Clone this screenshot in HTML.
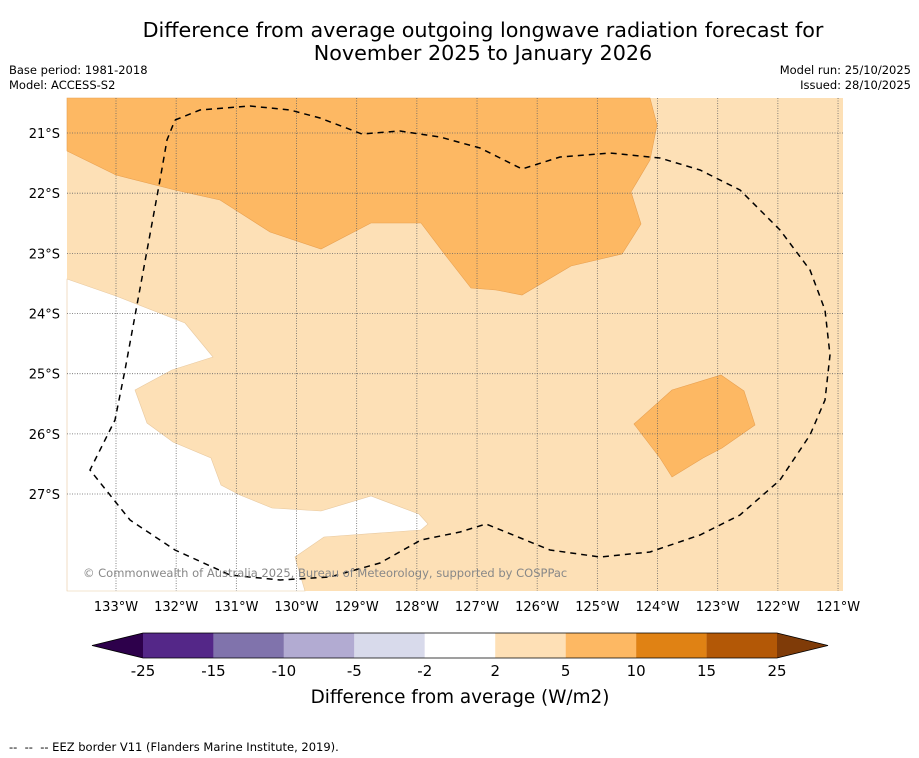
<!DOCTYPE html>
<html><head><meta charset="utf-8"><style>
body{margin:0;background:#fff;font-family:"Liberation Sans","DejaVu Sans",sans-serif}
#root{position:relative;width:919px;height:758px;overflow:hidden;background:#fff}
.t{position:absolute;white-space:nowrap}
</style></head><body>
<div id="root">
<div class="t" style="left:0;width:966px;text-align:center;top:19px;font-size:20.7px;line-height:23px;color:#000;font-family:'DejaVu Sans',sans-serif">Difference from average outgoing longwave radiation forecast for<br>November 2025 to January 2026</div>
<div class="t" style="left:9px;top:63px;font-size:11.5px;line-height:15px;font-family:'DejaVu Sans',sans-serif">Base period: 1981-2018<br>Model: ACCESS-S2</div>
<div class="t" style="right:8px;top:63px;font-size:11.5px;line-height:15px;text-align:right;font-family:'DejaVu Sans',sans-serif">Model run: 25/10/2025<br>Issued: 28/10/2025</div>
<div class="t" style="left:9px;top:740px;font-size:11.5px;font-family:'DejaVu Sans',sans-serif">-- &nbsp;-- &nbsp;-- EEZ border V11 (Flanders Marine Institute, 2019).</div>
<svg id="svg" width="919" height="758" style="position:absolute;left:0;top:0" font-family="DejaVu Sans, Liberation Sans, sans-serif"></svg>
</div>
<script>
const lonTicks=[-133,-132,-131,-130,-129,-128,-127,-126,-125,-124,-123,-122,-121];
const latTicks=[-21,-22,-23,-24,-25,-26,-27];
const cbBounds=[-25,-15,-10,-5,-2,2,5,10,15,25];
const cbColors=["#542788","#8073ac","#b2abd2","#d8daeb","#ffffff","#fee0b6","#fdb863","#e08214","#b35806"];
const cbUnder="#2d004b", cbOver="#7f3b08";
const NS="http://www.w3.org/2000/svg", svg=document.getElementById('svg');
function el(t,a,p){const e=document.createElementNS(NS,t);for(const k in a)e.setAttribute(k,a[k]);(p||svg).appendChild(e);return e;}
const X=lon=>116+(lon+133)*60.17, Y=lat=>133+(-21-lat)*60.17;
const L=67,R=843,T=98,B=591;
const map=el('g',{});


const bg=el('rect',{x:L,y:T,width:R-L,height:B-T,fill:'#fde0b6'},map);


const wh=el('polygon',{fill:'#fff',stroke:'#e8c9a0','stroke-width':0.6,points:"67,279 116,296 185,323 213,357 172,370 135,390 147,423 173,442 211,458 221,485 240,495 272,508 321,511 371,496 419,514 428,524 421,530 324,537 295,557 305,591 67,591"},map);


const o1=el('polygon',{fill:'#fdb863',stroke:'#e8a050','stroke-width':0.6,points:"67,98 650,98 657,125 650,160 631,192 641,224 622,254 571,266 522,295 496,290 471,288 446,256 421,223 371,223 321,249 270,232 220,200 175,190 116,175 67,151"},map);


const o2=el('polygon',{fill:'#fdb863',stroke:'#e8a050','stroke-width':0.6,points:"634,424 672,390 721,375 744,391 755,425 722,448 703,458 672,477 660,458"},map);


lonTicks.forEach(v=>{const x=X(v);
 if(x>L&&x<R){const g=el('line',{x1:x,x2:x,y1:T,y2:B,stroke:'#666','stroke-width':0.8,'stroke-dasharray':'1,1.5'});
 
 }
 const t=el('text',{x:x,y:611,'font-size':13,'text-anchor':'middle',fill:'#000'});t.textContent=Math.abs(v)+'°W';
 
 });
latTicks.forEach(v=>{const y=Y(v);
 const g=el('line',{x1:L,x2:R,y1:y,y2:y,stroke:'#666','stroke-width':0.8,'stroke-dasharray':'1,1.5'});
 
 
 const t=el('text',{x:60,y:y+5,'font-size':13,'text-anchor':'end',fill:'#000'});t.textContent=Math.abs(v)+'°S';
 
 });
const eez=el('polyline',{fill:'none',stroke:'#000','stroke-width':1.5,'stroke-dasharray':'6,5',points:"175,120 200,110 250,106 290,110 320,118 362,134 400,131 440,137 480,148 522,169 560,157 610,153 660,158 700,170 740,190 780,230 810,270 825,310 830,355 825,400 810,435 780,480 740,515 700,535 650,552 600,557 550,550 486,524 460,532 421,540 380,563 330,577 280,580 230,575 175,550 130,520 90,470 115,420 125,370 160,180 167,140 175,120"});


const cp=el('text',{x:83,y:577,'font-size':11.5,fill:'#888'});cp.textContent='© Commonwealth of Australia 2025, Bureau of Meteorology, supported by COSPPac';


const cx0=143,cx1=777,cy0=633,cy1=658;
const CX=v=>cx0+cbBounds.indexOf(v)*(cx1-cx0)/(cbBounds.length-1);
for(let i=0;i<cbColors.length;i++){
 const r=el('rect',{x:CX(cbBounds[i]),y:cy0,width:CX(cbBounds[i+1])-CX(cbBounds[i]),height:cy1-cy0,fill:cbColors[i]});
 
 }
const tu=el('polygon',{points:`${cx0},${cy0} 92,${(cy0+cy1)/2} ${cx0},${cy1}`,fill:cbUnder});


const to=el('polygon',{points:`${cx1},${cy0} 828,${(cy0+cy1)/2} ${cx1},${cy1}`,fill:cbOver});


const ol=el('polygon',{points:`92,${(cy0+cy1)/2} ${cx0},${cy0} ${cx1},${cy0} 828,${(cy0+cy1)/2} ${cx1},${cy1} ${cx0},${cy1}`,fill:'none',stroke:'#000','stroke-width':0.8});


cbBounds.forEach(v=>{const t=el('text',{x:CX(v),y:676,'font-size':15,'text-anchor':'middle'});t.textContent=v;
 
 });
const ct=el('text',{x:460,y:703,'font-size':18.4,'text-anchor':'middle'});ct.textContent='Difference from average (W/m2)';


</script>
</body></html>
